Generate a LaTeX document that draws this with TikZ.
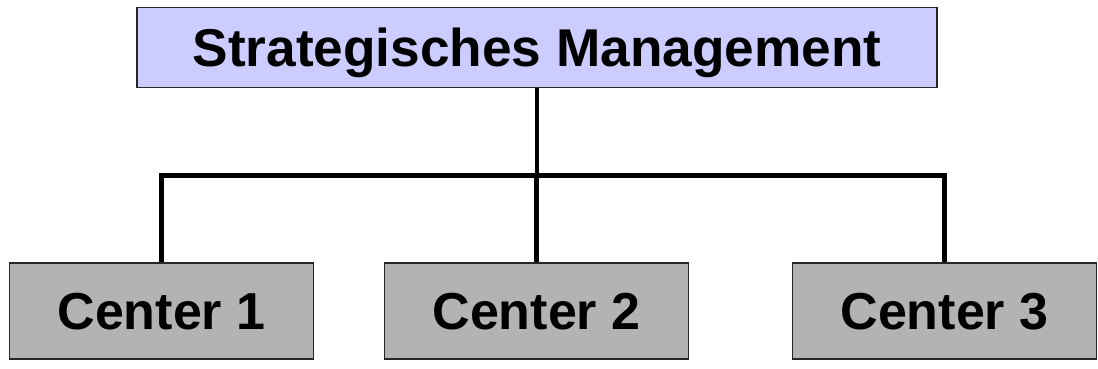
\documentclass[tikz,border=0pt]{standalone}
\usepackage{fontspec}
\setmainfont{Liberation Sans}
\begin{document}
\begin{tikzpicture}[x=1pt,y=-1pt,
  box/.style={draw=black!85, line width=1.6pt, inner sep=0pt, text depth=0pt, text=black},
  headbox/.style={box, fill=headfill, minimum width=800pt, minimum height=80pt,
    font=\bfseries\fontsize{53.2}{60}\selectfont},
  unitbox/.style={box, fill=unitfill, minimum width=304pt, minimum height=96pt,
    font=\bfseries\fontsize{52}{60}\selectfont},
  link/.style={line width=4.5pt, black}]
\definecolor{headfill}{HTML}{CCCCFF}
\definecolor{unitfill}{HTML}{B3B3B3}
\useasboundingbox (0,0) rectangle (1098,368);
\node[headbox] (top) at (537,47.5) {Strategisches Management};
\node[unitbox] (c1) at (161.5,311) {Center 1};
\node[unitbox] (c2) at (536.5,311) {Center 2};
\node[unitbox] (c3) at (944.5,311) {Center 3};
\coordinate (bus) at (0,175.5);
\draw[link] (top.south) -- (top.south |- bus);
\draw[link] (c1.north) -- (c1.north |- bus) -- (c3.north |- bus) -- (c3.north);
\draw[link] (c2.north) -- (c2.north |- bus);
\end{tikzpicture}
\end{document}
